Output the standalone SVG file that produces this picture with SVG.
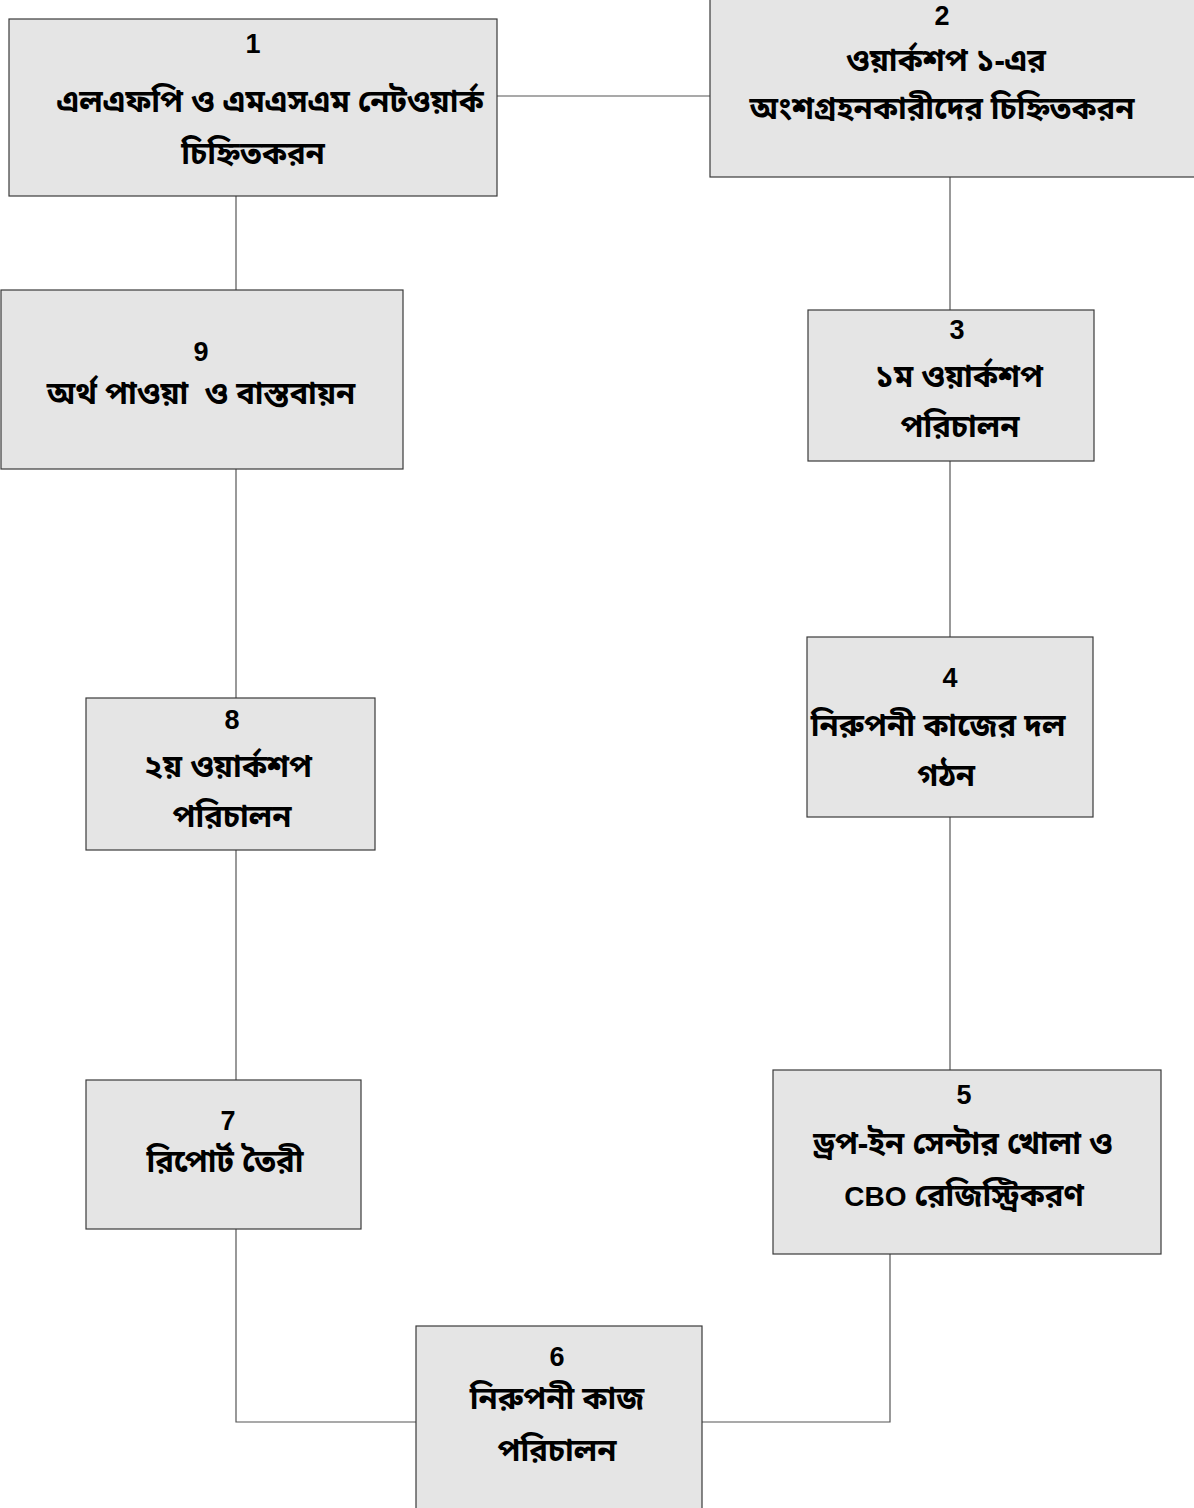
<svg xmlns="http://www.w3.org/2000/svg" width="1194" height="1508" viewBox="0 0 1194 1508">
<style>
.box{fill:#e5e5e5;stroke:#3a3a3a;stroke-width:1.2}
.num{font-family:"Liberation Sans",Arial,sans-serif;font-weight:bold;font-size:27px;fill:#000;text-anchor:middle}
.bn{font-family:"Noto Sans Bengali","Noto Sans","DejaVu Sans",sans-serif;font-weight:bold;font-size:31px;fill:#000;text-anchor:middle;white-space:pre}
.lat{font-family:"Liberation Sans",Arial,sans-serif;font-weight:bold;font-size:28px}
.conn{fill:none;stroke:#555;stroke-width:1.2}
</style>
<rect width="1194" height="1508" fill="#fff"/>
<g id="connectors">
<path class="conn" d="M497 96H710"/>
<path class="conn" d="M950 177V310"/>
<path class="conn" d="M950 461V637"/>
<path class="conn" d="M950 817V1070"/>
<path class="conn" d="M890 1254V1422H702"/>
<path class="conn" d="M416 1422H236V1229"/>
<path class="conn" d="M236 850V1080"/>
<path class="conn" d="M236 469V698"/>
<path class="conn" d="M236 196V290"/>
</g>
<g id="node1">
<rect class="box" x="9" y="19" width="488" height="177"/>
<text class="num" x="253" y="53">1</text>
<text class="bn" x="270" y="112">এলএফপি ও এমএসএম নেটওয়ার্ক</text>
<text class="bn" x="253" y="164">চিহ্নিতকরন</text>
</g>
<g id="node2">
<rect class="box" x="710" y="-1" width="486" height="178"/>
<text class="num" x="942" y="25">2</text>
<text class="bn" x="946" y="71">ওয়ার্কশপ ১-এর</text>
<text class="bn" x="942" y="119">অংশগ্রহনকারীদের চিহ্নিতকরন</text>
</g>
<g id="node3">
<rect class="box" x="808" y="310" width="286" height="151"/>
<text class="num" x="957" y="339">3</text>
<text class="bn" x="959" y="387">১ম ওয়ার্কশপ</text>
<text class="bn" x="960" y="437">পরিচালন</text>
</g>
<g id="node4">
<rect class="box" x="807" y="637" width="286" height="180"/>
<text class="num" x="950" y="687">4</text>
<text class="bn" x="938" y="736">নিরুপনী কাজের দল</text>
<text class="bn" x="946" y="786">গঠন</text>
</g>
<g id="node5">
<rect class="box" x="773" y="1070" width="388" height="184"/>
<text class="num" x="964" y="1104">5</text>
<text class="bn" x="963" y="1154">ড্রপ-ইন সেন্টার খোলা ও</text>
<text class="bn" x="964" y="1206"><tspan class="lat">CBO</tspan> রেজিস্ট্রিকরণ</text>
</g>
<g id="node6">
<rect class="box" x="416" y="1326" width="286" height="184"/>
<text class="num" x="557" y="1366">6</text>
<text class="bn" x="557" y="1409">নিরুপনী কাজ</text>
<text class="bn" x="557" y="1461">পরিচালন</text>
</g>
<g id="node7">
<rect class="box" x="86" y="1080" width="275" height="149"/>
<text class="num" x="228" y="1130">7</text>
<text class="bn" x="225" y="1172">রিপোর্ট তৈরী</text>
</g>
<g id="node8">
<rect class="box" x="86" y="698" width="289" height="152"/>
<text class="num" x="232" y="729">8</text>
<text class="bn" x="228" y="777">২য় ওয়ার্কশপ</text>
<text class="bn" x="232" y="827">পরিচালন</text>
</g>
<g id="node9">
<rect class="box" x="1" y="290" width="402" height="179"/>
<text class="num" x="201" y="361">9</text>
<text class="bn" x="201" y="404">অর্থ পাওয়া  ও বাস্তবায়ন</text>
</g>
</svg>
